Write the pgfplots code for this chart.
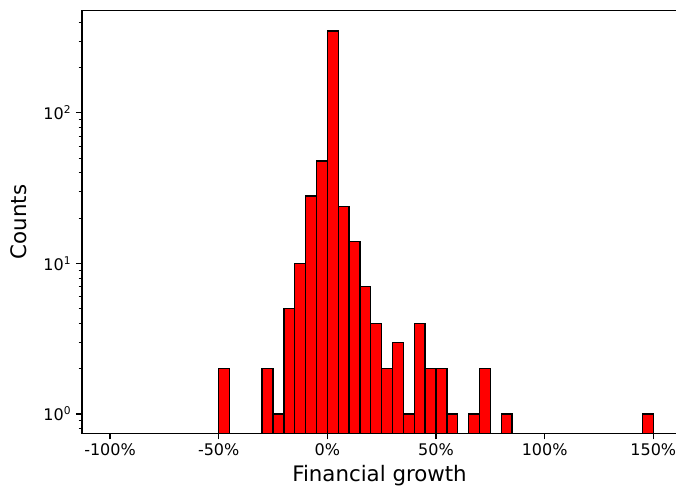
\documentclass[border=0pt]{standalone}
\usepackage{fontspec}
\setmainfont{DejaVu Sans}
\usepackage{pgfplots}
\pgfplotsset{compat=1.18}
\begin{document}
\begin{tikzpicture}
\begin{axis}[
  name=ax,
  scale only axis,
  width=446.25pt, height=317pt,
  xmin=-112.9, xmax=160.9,
  ymode=log, log origin=infty,
  ymin=0.744, ymax=478,
  axis line style={black, line width=0.8pt},
  tick align=outside, tick pos=left,
  major tick length=4.5pt, minor tick length=2.6pt,
  every tick/.style={black, line width=0.8pt},
  xtick={-100,-50,0,50,100,150},
  xticklabels={-100\%,-50\%,0\%,50\%,100\%,150\%},
  ytick={1,10,100},
  yticklabels={10\textsuperscript{0},10\textsuperscript{1},10\textsuperscript{2}},
  minor ytick={0.8,0.9,2,3,4,5,6,7,8,9,20,30,40,50,60,70,80,90,200,300,400},
  tick label style={font=\fontsize{12}{14}\selectfont},
  xlabel={Financial growth},
  ylabel={Counts},
  label style={font=\fontsize{16}{19}\selectfont},
  xlabel style={at={(axis description cs:0.5,-0.1129)}, anchor=base, inner sep=0pt},
  ylabel style={at={(axis description cs:-0.0931,0.5)}, anchor=base, inner sep=0pt},
]
\addplot[ybar, bar shift=0pt, bar width=5, fill=red, draw=black, line width=1pt]
coordinates {
(-47.5,2) (-27.5,2) (-22.5,1) (-17.5,5) (-12.5,10) (-7.5,28) (-2.5,48)
(2.5,350) (7.5,24) (12.5,14) (17.5,7) (22.5,4) (27.5,2) (32.5,3)
(37.5,1) (42.5,4) (47.5,2) (52.5,2) (57.5,1) (67.5,1) (72.5,2)
(82.5,1) (147.5,1)
};
\end{axis}
\pgfresetboundingbox
\path[use as bounding box] ([xshift=-61.5pt,yshift=-38.8pt]ax.south west) rectangle ([xshift=-0.75pt,yshift=8pt]ax.north east);
\end{tikzpicture}
\end{document}
